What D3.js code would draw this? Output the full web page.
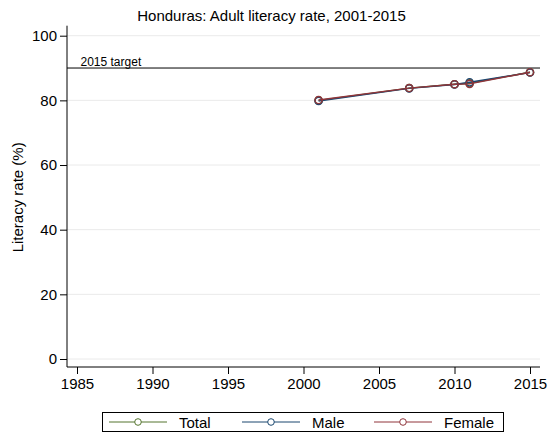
<!DOCTYPE html>
<html><head><meta charset="utf-8">
<script src="https://cdn.jsdelivr.net/npm/d3@7"></script>
<style>body{margin:0;background:#fff;}svg{display:block;font-family:"Liberation Sans",Arial,sans-serif;}</style>
</head><body>
<script>
const years = [2001, 2007, 2010, 2011, 2015];
const totalVals = [80.0, 83.8, 85.0, 85.3, 88.7];
const maleVals = [79.8, 83.7, 84.9, 85.6, 88.6];
const femaleVals = [80.1, 83.8, 85.0, 85.1, 88.7];
const seriesNames = ["Total", "Male", "Female"];
const seriesColors = ["#55752f", "#1a476f", "#90353b"];
const xTicks = [1985, 1990, 1995, 2000, 2005, 2010, 2015];
const yTicks = [0, 20, 40, 60, 80, 100];
const targetValue = 90;
const titleText = "Honduras: Adult literacy rate, 2001-2015";

const W = 549, H = 433;
const svg = d3.select("body").append("svg").attr("width", W).attr("height", H);
svg.append("rect").attr("width", W).attr("height", H).attr("fill", "#fff");

const left = 67, right = 540, axisY = 367;
const x = d3.scaleLinear().domain([1985, 2015]).range([77, 530]);
const y = d3.scaleLinear().domain([0, 100]).range([359, 35.7]);

// gridlines
svg.append("g").selectAll("line").data(yTicks).join("line")
  .attr("x1", left).attr("x2", right).attr("y1", d => y(d)).attr("y2", d => y(d))
  .attr("stroke", "#eaeaea").attr("stroke-width", 1);

// y axis
const yAxis = d3.axisLeft(y).tickValues(yTicks).tickSize(7).tickPadding(3);
const gy = svg.append("g").attr("transform", `translate(${left},0)`).call(yAxis);
gy.select(".domain").attr("d", `M0,${y(100) - 10}V${axisY}`).attr("stroke", "#000");
gy.selectAll(".tick text").attr("font-size", 15).attr("fill", "#000");

// x axis
const xAxis = d3.axisBottom(x).tickValues(xTicks).tickFormat(d3.format("d")).tickSize(7).tickPadding(4);
const gx = svg.append("g").attr("transform", `translate(0,${axisY})`).call(xAxis);
gx.select(".domain").attr("d", `M${left},0H${right}`).attr("stroke", "#000");
gx.selectAll(".tick text").attr("font-size", 15).attr("fill", "#000");

// target line
svg.append("line").attr("x1", left).attr("x2", right)
  .attr("y1", y(targetValue)).attr("y2", y(targetValue))
  .attr("stroke", "#000").attr("stroke-width", 1);
svg.append("text").attr("x", 80.5).attr("y", y(targetValue) - 2)
  .attr("font-size", 12).text("2015 target");

// title
svg.append("text").attr("x", 271.5).attr("y", 21).attr("text-anchor", "middle")
  .attr("font-size", 15).text(titleText);

// y label
svg.append("text").attr("transform", `translate(22.5,${(y(0) + y(100)) / 2}) rotate(-90)`)
  .attr("text-anchor", "middle").attr("font-size", 15).text("Literacy rate (%)");

// series
const seriesData = [totalVals, maleVals, femaleVals];
const line = d3.line().x((d, i) => x(years[i])).y(d => y(d));
seriesData.forEach((vals, k) => {
  svg.append("path").datum(vals).attr("d", line).attr("fill", "none")
    .attr("stroke", seriesColors[k]).attr("stroke-width", 1.4);
  svg.append("g").selectAll("circle").data(vals).join("circle")
    .attr("cx", (d, i) => x(years[i])).attr("cy", d => y(d)).attr("r", 3.6)
    .attr("fill", "none").attr("stroke", seriesColors[k]).attr("stroke-width", 1.4);
});

// legend
const lg = svg.append("g");
lg.append("rect").attr("x", 102.5).attr("y", 412.5).attr("width", 401).attr("height", 19)
  .attr("fill", "#fff").attr("stroke", "#000").attr("stroke-width", 1);
const itemX = [109, 242, 374];
seriesNames.forEach((n, k) => {
  const x0 = itemX[k];
  lg.append("line").attr("x1", x0).attr("x2", x0 + 58).attr("y1", 422).attr("y2", 422)
    .attr("stroke", seriesColors[k]).attr("stroke-width", 1);
  lg.append("circle").attr("cx", x0 + 29).attr("cy", 422).attr("r", 3.3)
    .attr("fill", "#fff").attr("stroke", seriesColors[k]).attr("stroke-width", 1);
  lg.append("text").attr("x", x0 + 70).attr("y", 427.5).attr("font-size", 15).text(n);
});
</script>
</body></html>
